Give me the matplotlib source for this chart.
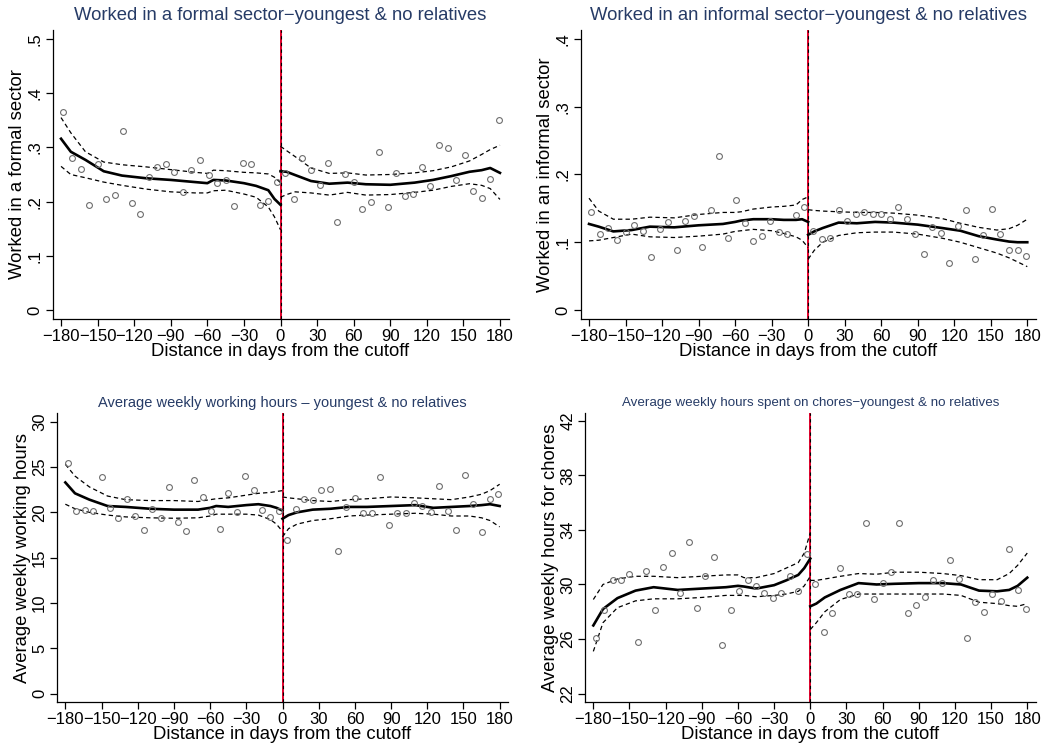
import matplotlib
matplotlib.use("Agg")
import matplotlib.pyplot as plt

plt.rcParams['font.family'] = ['Liberation Sans', 'DejaVu Sans']

# bin centres (days from cutoff)
bins_left = [-178, -171, -164, -157, -150, -143, -136, -129, -122, -115, -108, -101, -94,
             -87, -80, -73, -66, -59, -52, -45, -38, -31, -24, -17, -10, -3]
bins_right = [4, 11, 18, 25, 32, 39, 46, 53, 60, 67, 74, 81, 88,
              95, 102, 109, 116, 123, 130, 137, 144, 151, 158, 165, 172, 179]
# x positions at which the fitted curves / bands were read
grid_left = [-180, -172, -160, -145, -130, -110, -90, -70, -60, -55, -45, -30, -20, -10, -5, 0]
grid_right = [0, 5, 12, 25, 40, 55, 70, 90, 110, 125, 140, 155, 165, 172, 180]

# formal sector
formal_pts_left = [0.365, 0.281, 0.261, 0.194, 0.270, 0.205, 0.213, 0.330, 0.198, 0.177, 0.246, 0.264, 0.270,
                   0.254, 0.218, 0.259, 0.277, 0.249, 0.234, 0.239, 0.191, 0.272, 0.269, 0.193, 0.202, 0.236]
formal_pts_right = [0.252, 0.204, 0.281, 0.259, 0.231, 0.272, 0.163, 0.251, 0.236, 0.186, 0.200, 0.292, 0.190,
                    0.252, 0.210, 0.214, 0.264, 0.228, 0.304, 0.298, 0.240, 0.286, 0.220, 0.207, 0.241, 0.351]
formal_fit_left = [0.316, 0.292, 0.277, 0.256, 0.248, 0.243, 0.240, 0.236, 0.234, 0.240, 0.239, 0.234, 0.229, 0.221, 0.205, 0.194]
formal_hi_left = [0.355, 0.327, 0.292, 0.273, 0.268, 0.264, 0.259, 0.254, 0.252, 0.258, 0.257, 0.254, 0.253, 0.251, 0.245, 0.235]
formal_lo_left = [0.265, 0.250, 0.244, 0.236, 0.230, 0.223, 0.218, 0.216, 0.216, 0.220, 0.221, 0.214, 0.208, 0.190, 0.172, 0.148]
formal_fit_right = [0.256, 0.255, 0.249, 0.238, 0.233, 0.235, 0.232, 0.231, 0.235, 0.240, 0.247, 0.255, 0.258, 0.262, 0.253]
formal_hi_right = [0.302, 0.294, 0.283, 0.262, 0.252, 0.253, 0.249, 0.250, 0.253, 0.257, 0.264, 0.275, 0.287, 0.296, 0.304]
formal_lo_right = [0.208, 0.213, 0.218, 0.216, 0.212, 0.217, 0.212, 0.213, 0.217, 0.221, 0.228, 0.233, 0.230, 0.224, 0.204]

# informal sector
informal_pts_left = [0.144, 0.112, 0.121, 0.103, 0.115, 0.125, 0.117, 0.078, 0.120, 0.130, 0.089, 0.132, 0.139,
                     0.093, 0.148, 0.228, 0.106, 0.162, 0.128, 0.102, 0.109, 0.131, 0.115, 0.112, 0.140, 0.152]
informal_pts_right = [0.117, 0.105, 0.107, 0.147, 0.131, 0.141, 0.144, 0.141, 0.141, 0.135, 0.152, 0.135, 0.112,
                      0.082, 0.123, 0.114, 0.070, 0.124, 0.147, 0.076, 0.111, 0.149, 0.112, 0.089, 0.089, 0.079]
informal_fit_left = [0.127, 0.123, 0.116, 0.118, 0.123, 0.122, 0.125, 0.127, 0.130, 0.132, 0.134, 0.134, 0.133, 0.133, 0.134, 0.130]
informal_hi_left = [0.165, 0.146, 0.134, 0.134, 0.137, 0.136, 0.141, 0.144, 0.144, 0.145, 0.149, 0.152, 0.153, 0.155, 0.163, 0.167]
informal_lo_left = [0.102, 0.103, 0.107, 0.112, 0.108, 0.107, 0.109, 0.112, 0.116, 0.117, 0.119, 0.117, 0.113, 0.108, 0.103, 0.092]
informal_fit_right = [0.111, 0.116, 0.121, 0.129, 0.128, 0.130, 0.129, 0.126, 0.121, 0.117, 0.109, 0.104, 0.101, 0.100, 0.100]
informal_hi_right = [0.148, 0.147, 0.146, 0.145, 0.144, 0.144, 0.143, 0.140, 0.135, 0.128, 0.122, 0.118, 0.120, 0.125, 0.134]
informal_lo_right = [0.075, 0.088, 0.100, 0.110, 0.114, 0.115, 0.115, 0.112, 0.106, 0.100, 0.092, 0.084, 0.077, 0.071, 0.064]

# weekly working hours
hours_pts_left = [25.5, 20.2, 20.3, 20.1, 23.9, 20.5, 19.4, 21.5, 19.6, 18.0, 20.4, 19.4, 22.8,
                  18.9, 17.9, 23.6, 21.7, 20.1, 18.2, 22.1, 20.0, 24.0, 22.5, 20.3, 19.5, 20.1]
hours_pts_right = [17.0, 20.4, 21.5, 21.4, 22.5, 22.6, 15.7, 20.6, 21.6, 19.9, 19.9, 23.9, 18.6,
                   19.9, 19.9, 21.0, 20.7, 20.0, 22.9, 20.2, 18.0, 24.1, 20.9, 17.8, 21.5, 22.0]
hours_fit_left = [23.3, 22.1, 21.4, 20.7, 20.6, 20.4, 20.3, 20.3, 20.5, 20.7, 20.6, 20.8, 20.9, 20.7, 20.5, 20.2]
hours_hi_left = [25.3, 24.0, 22.8, 21.8, 21.4, 21.3, 21.3, 21.2, 21.4, 21.5, 21.6, 21.9, 22.1, 22.2, 22.3, 22.4]
hours_lo_left = [20.9, 20.4, 20.0, 19.7, 19.5, 19.4, 19.35, 19.4, 19.6, 19.8, 19.8, 19.8, 19.7, 19.2, 18.7, 17.9]
hours_fit_right = [19.3, 19.7, 20.0, 20.3, 20.4, 20.6, 20.6, 20.7, 20.8, 20.5, 20.6, 20.7, 20.8, 20.9, 20.7]
hours_hi_right = [21.7, 21.6, 21.5, 21.3, 21.2, 21.4, 21.5, 21.7, 21.6, 21.5, 21.4, 21.7, 22.0, 22.4, 23.1]
hours_lo_right = [17.3, 18.2, 18.7, 19.1, 19.3, 19.6, 19.7, 19.8, 19.9, 19.8, 19.6, 19.6, 19.4, 19.1, 18.4]

# weekly hours on chores
chores_pts_left = [26.1, 28.1, 30.3, 30.3, 30.8, 25.8, 31.0, 28.1, 31.3, 32.3, 29.4, 33.1, 28.3,
                   30.6, 32.0, 25.6, 28.1, 29.5, 30.3, 29.9, 29.4, 29.0, 29.4, 30.6, 29.5, 32.2]
chores_pts_right = [30.0, 26.5, 27.9, 31.2, 29.3, 29.3, 34.5, 28.9, 30.1, 30.9, 34.5, 27.9, 28.5,
                    29.1, 30.3, 30.1, 31.8, 30.4, 26.1, 28.7, 28.0, 29.3, 28.8, 32.6, 29.6, 28.2]
chores_fit_left = [27.0, 28.2, 29.0, 29.55, 29.8, 29.6, 29.7, 29.8, 29.9, 29.85, 29.7, 29.95, 30.3, 30.7, 31.2, 31.9]
chores_hi_left = [28.9, 30.0, 30.4, 30.6, 30.6, 30.5, 30.6, 30.7, 30.7, 30.5, 30.5, 30.8, 31.2, 31.6, 32.3, 33.8]
chores_lo_left = [25.1, 27.2, 28.3, 28.8, 28.95, 28.95, 29.05, 29.2, 29.2, 29.2, 29.1, 29.2, 29.3, 29.5, 29.9, 30.6]
chores_fit_right = [28.4, 28.6, 29.05, 29.6, 30.1, 30.0, 30.05, 30.1, 30.1, 30.0, 29.55, 29.5, 29.6, 29.9, 30.5]
chores_hi_right = [30.3, 30.3, 30.4, 30.6, 30.8, 30.75, 30.9, 30.9, 30.8, 30.65, 30.35, 30.35, 30.8, 31.4, 32.3]
chores_lo_right = [26.7, 27.2, 28.0, 28.9, 29.3, 29.3, 29.3, 29.3, 29.3, 29.2, 28.7, 28.6, 28.45, 28.4, 28.6]

xticks = [-180, -150, -120, -90, -60, -30, 0, 30, 60, 90, 120, 150, 180]

W, H = 1046, 752
TITLE_COLOR = '#263b66'


def draw_panel(rect_px, ylim, yticks, yticklabels, ylabel, title, title_size, title_off,
               pts_l, pts_r, fit_l, hi_l, lo_l, fit_r, hi_r, lo_r):
    left, right, top, bottom = rect_px
    ax = plt.gcf().add_axes([left / W, 1 - bottom / H, (right - left) / W, (bottom - top) / H])
    hpx = bottom - top
    wpx = right - left

    ax.axvline(0, color='#e0002a', lw=1.4, zorder=1)
    ax.axvline(0, color='black', lw=0.8, ls=(0, (3, 3)), zorder=2)

    for gx, fit, hi, lo in [(grid_left, fit_l, hi_l, lo_l), (grid_right, fit_r, hi_r, lo_r)]:
        ax.plot(gx, hi, color='black', lw=0.9, ls=(0, (3.5, 2.5)), zorder=3)
        ax.plot(gx, lo, color='black', lw=0.9, ls=(0, (3.5, 2.5)), zorder=3)
        ax.plot(gx, fit, color='black', lw=1.9, zorder=4)
    ax.plot(bins_left, pts_l, ls='', marker='o', ms=4.2, mfc='none', mec='#6e6e6e', mew=0.8, zorder=5)
    ax.plot(bins_right, pts_r, ls='', marker='o', ms=4.2, mfc='none', mec='#6e6e6e', mew=0.8, zorder=5)

    ax.set_xlim(-187, 187)
    ax.set_ylim(*ylim)
    ax.set_xticks(xticks)
    ax.set_xticklabels([str(t).replace('-', '\u2212') for t in xticks])
    ax.set_yticks(yticks)
    ax.set_yticklabels(yticklabels, rotation=90, va='center')
    ax.tick_params(direction='out', length=5, width=0.9, labelsize=12, pad=2, colors='black')
    ax.spines['top'].set_visible(False)
    ax.spines['right'].set_visible(False)
    ax.spines['left'].set_linewidth(0.9)
    ax.spines['bottom'].set_linewidth(0.9)

    ax.set_xlabel('Distance in days from the cutoff', fontsize=13.3)
    ax.xaxis.set_label_coords(0.5, -24 / hpx)
    ax.set_ylabel(ylabel, fontsize=13.3)
    ax.yaxis.set_label_coords(-26 / wpx, 0.5)
    ax.text(0.5, 1 + title_off / hpx, title, transform=ax.transAxes, ha='center', va='center',
            fontsize=title_size, color=TITLE_COLOR)
    return ax


fig = plt.figure(figsize=(W / 100, H / 100), dpi=100)

draw_panel((52.5, 508.5, 30, 319), (-0.0166, 0.5166), [0, 0.1, 0.2, 0.3, 0.4, 0.5],
           ['0', '.1', '.2', '.3', '.4', '.5'], 'Worked in a formal sector',
           'Worked in a formal sector\u2212youngest & no relatives', 13.3, 15,
           formal_pts_left, formal_pts_right, formal_fit_left, formal_hi_left, formal_lo_left,
           formal_fit_right, formal_hi_right, formal_lo_right)

draw_panel((580.5, 1035.8, 30, 319), (-0.0133, 0.4133), [0, 0.1, 0.2, 0.3, 0.4],
           ['0', '.1', '.2', '.3', '.4'], 'Worked in an informal sector',
           'Worked in an informal sector\u2212youngest & no relatives', 13.3, 15,
           informal_pts_left, informal_pts_right, informal_fit_left, informal_hi_left, informal_lo_left,
           informal_fit_right, informal_hi_right, informal_lo_right)

draw_panel((56.9, 508.1, 413, 702.3), (-0.95, 30.96), [0, 5, 10, 15, 20, 25, 30],
           ['0', '5', '10', '15', '20', '25', '30'], 'Average weekly working hours',
           'Average weekly working hours \u2013 youngest & no relatives', 10.5, 10.3,
           hours_pts_left, hours_pts_right, hours_fit_left, hours_hi_left, hours_lo_left,
           hours_fit_right, hours_hi_right, hours_lo_right)

draw_panel((584.9, 1035.7, 413, 702.3), (21.37, 42.56), [22, 26, 30, 34, 38, 42],
           ['22', '26', '30', '34', '38', '42'], 'Average weekly hours for chores',
           'Average weekly hours spent on chores\u2212youngest & no relatives', 9.6, 10.3,
           chores_pts_left, chores_pts_right, chores_fit_left, chores_hi_left, chores_lo_left,
           chores_fit_right, chores_hi_right, chores_lo_right)

fig.savefig('out.png', dpi=100)
